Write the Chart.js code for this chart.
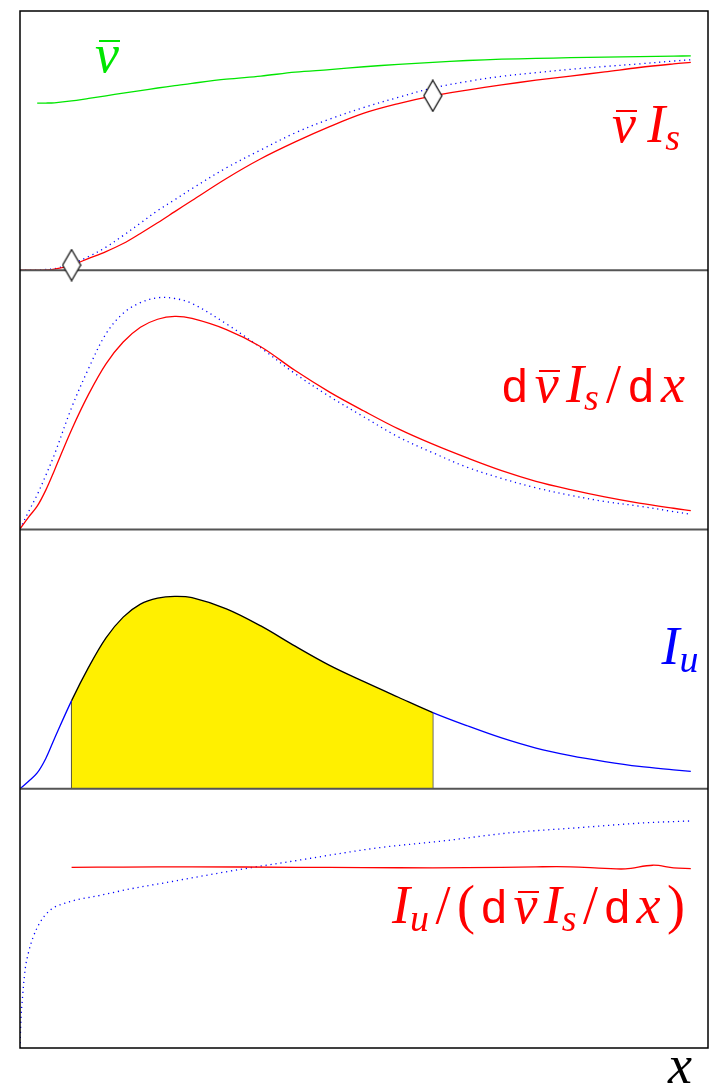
<!DOCTYPE html>
<html>
<head>
<meta charset="utf-8">
<script src="https://cdn.jsdelivr.net/npm/chart.js@4"></script>
<style>
  html, body { margin: 0; padding: 0; background: #fff; }
  #wrap { width: 719px; height: 1087px; position: relative; }
  .lbl { position: absolute; white-space: nowrap; font-family: "Liberation Serif", "DejaVu Serif", serif; font-size: 54px; line-height: 1; }
  .lbl span { display: inline-block; position: relative; }
  .lbl .probe { display: inline-block; width: 0; height: 0; }
  .lbl .it { font-style: italic; }
  .lbl .sf { font-family: "Liberation Sans", "DejaVu Sans", sans-serif; font-size: 46px; }
  .lbl .sub { font-size: 38px; top: 8px; }
  .lbl .bar::before { content: ''; position: absolute; left: 18%; right: -5%; top: 0.24em; border-top: 2.2px solid currentColor; }
</style>
</head>
<body>
<div id="wrap"><canvas id="chart"></canvas></div>
<script>
// common abscissa for the first three panels
const xGrid = [0, 0.125, 0.25, 0.375, 0.5, 0.75, 1, 1.25, 1.5, 1.75, 2, 2.25, 2.5, 3, 3.5, 4, 4.5, 5, 5.5, 6, 6.5, 7, 7.5, 8, 8.5, 9, 9.5, 9.75];

// panel 1: mean velocity and flux
const vbar     = [null, null, 0.645, 0.645, 0.646, 0.653, 0.663, 0.673, 0.683, 0.693, 0.703, 0.712, 0.721, 0.737, 0.749, 0.764, 0.774, 0.785, 0.794, 0.802, 0.809, 0.814, 0.817, 0.820, 0.822, 0.824, 0.826, 0.827];
const vIs      = [0, 0, 0, 0.001, 0.004, 0.020, 0.046, 0.072, 0.103, 0.142, 0.183, 0.226, 0.269, 0.354, 0.430, 0.495, 0.554, 0.606, 0.643, 0.673, 0.695, 0.715, 0.733, 0.749, 0.765, 0.782, 0.796, 0.802];
const vIsRef   = [0, 0, 0.001, 0.003, 0.006, 0.024, 0.053, 0.089, 0.134, 0.182, 0.230, 0.272, 0.315, 0.395, 0.464, 0.530, 0.583, 0.628, 0.667, 0.703, 0.728, 0.748, 0.762, 0.775, 0.786, 0.796, 0.807, 0.812];
const markerX  = [0.75, 6];

// panel 2: derivative of the flux
const dvIs     = [0.002, 0.048, 0.090, 0.152, 0.228, 0.385, 0.523, 0.639, 0.723, 0.780, 0.811, 0.822, 0.814, 0.771, 0.705, 0.613, 0.530, 0.457, 0.388, 0.329, 0.276, 0.227, 0.186, 0.154, 0.126, 0.102, 0.082, 0.073];
const dvIsRef  = [0.002, 0.069, 0.134, 0.209, 0.289, 0.470, 0.623, 0.755, 0.834, 0.875, 0.894, 0.891, 0.872, 0.793, 0.701, 0.601, 0.513, 0.434, 0.357, 0.296, 0.240, 0.197, 0.161, 0.132, 0.108, 0.090, 0.069, 0.059];

// panel 3: I_u, shaded between the two markers
const Iu       = [0, 0.029, 0.061, 0.117, 0.193, 0.340, 0.470, 0.582, 0.662, 0.712, 0.735, 0.742, 0.737, 0.694, 0.628, 0.550, 0.476, 0.413, 0.353, 0.294, 0.243, 0.196, 0.157, 0.128, 0.105, 0.086, 0.073, 0.067];

// panel 4: ratio
const ratioX   = [0.75, 1.5, 2.5, 4, 5, 6, 7, 7.5, 8, 8.5, 8.8, 9.2, 9.5, 9.75];
const ratio    = [0.697, 0.698, 0.699, 0.697, 0.696, 0.695, 0.697, 0.699, 0.699, 0.693, 0.691, 0.705, 0.695, 0.692];
const ratioRefX = [0, 0.015, 0.03, 0.05, 0.075, 0.12, 0.19, 0.29, 0.43, 0.68, 1.15, 1.63, 2.12, 2.6, 3.18, 4.04, 5.2, 6.16, 7.12, 8.08, 9.05, 9.77];
const ratioRef  = [0, 0.119, 0.173, 0.238, 0.304, 0.365, 0.427, 0.484, 0.530, 0.561, 0.588, 0.615, 0.638, 0.661, 0.688, 0.724, 0.772, 0.799, 0.830, 0.849, 0.868, 0.876];

const RED = '#ff0000', BLUE = '#0000ff', GREEN = '#00e600';

function pts(xs, ys) {
  return xs.map((x, i) => ({ x: x, y: ys[i] }));
}

const x0 = markerX[0], x1 = markerX[1];
const i0 = xGrid.indexOf(x0), i1 = xGrid.indexOf(x1);

// tall open diamond used as marker
const diamond = document.createElement('canvas');
diamond.width = 20; diamond.height = 33;
let dc = diamond.getContext('2d');
dc.beginPath();
dc.moveTo(10, 1); dc.lineTo(19, 16.5); dc.lineTo(10, 32); dc.lineTo(1, 16.5);
dc.closePath();
dc.fillStyle = '#fff'; dc.fill();
dc.lineWidth = 1.3; dc.strokeStyle = '#111'; dc.stroke();

function curve(data, yAxisID, color, dotted, steep) {
  return {
    data: data,
    yAxisID: yAxisID,
    showLine: true,
    pointRadius: 0,
    borderWidth: 1.3,
    borderColor: color,
    borderDash: dotted ? [1.2, 3.8] : [],
    fill: false,
    spanGaps: false,
    tension: 0.35,
    cubicInterpolationMode: steep ? 'monotone' : 'default'
  };
}

const inShade = c => c.p0.parsed.x >= x0 && c.p1.parsed.x <= x1;

let datasets = [
  {
    data: markerX.map(x => ({ x: x, y: vIs[xGrid.indexOf(x)] })),
    yAxisID: 'y1',
    showLine: false,
    pointStyle: diamond,
    pointRadius: 10,
    clip: false
  },
  curve(pts(xGrid, vIs), 'y1', RED),
  curve(pts(xGrid, vbar), 'y1', GREEN),
  curve(pts(xGrid, vIsRef), 'y1', BLUE, true),
  curve(pts(xGrid, dvIs), 'y2', RED),
  curve(pts(xGrid, dvIsRef), 'y2', BLUE, true),
  Object.assign(curve(pts(xGrid, Iu), 'y3', BLUE), {
    fill: 'origin',
    backgroundColor: 'transparent',
    segment: {
      borderColor: c => inShade(c) ? '#000' : BLUE,
      backgroundColor: c => inShade(c) ? '#fff000' : 'transparent'
    }
  }),
  curve([{ x: x0, y: 0 }, { x: x0, y: Iu[i0] }], 'y3', '#444'),
  curve([{ x: x1, y: 0 }, { x: x1, y: Iu[i1] }], 'y3', '#444'),
  curve(pts(ratioX, ratio), 'y4', RED),
  curve(pts(ratioRefX, ratioRef), 'y4', BLUE, true, true)
];

const panelAxis = {
  type: 'linear', min: 0, max: 1,
  stack: 'panels', stackWeight: 1, position: 'right',
  grid: { display: false, drawTicks: false },
  ticks: { display: false },
  border: { display: false }
};

// math labels: italic serif letters, sans "d", optional bar and subscript
const it = t => ({ t: t, f: 'it' });
const bar = t => ({ t: t, f: 'it', bar: true });
const sub = t => ({ t: t, f: 'it', sub: true });
const sf = t => ({ t: t, f: 'sf' });
const rm = t => ({ t: t, f: 'rm' });

const labels = [
  { parts: [bar('v')], left: 95, right: 119, base: 72, color: GREEN },
  { parts: [bar('v'), it('I'), sub('s')], left: 612, right: 680, base: 142, color: RED },
  { parts: [sf('d'), bar('v'), it('I'), sub('s'), rm('/'), sf('d'), it('x')], left: 502, right: 685, base: 402, color: RED },
  { parts: [it('I'), sub('u')], left: 658, right: 702, base: 664, color: BLUE },
  { parts: [it('I'), sub('u'), rm('/'), rm('('), sf('d'), bar('v'), it('I'), sub('s'), rm('/'), sf('d'), it('x'), rm(')')], left: 392, right: 685, base: 923, color: RED },
  { parts: [it('x')], left: 666, right: 694, base: 1083, color: '#000' }
];

const wrap = document.getElementById('wrap');

function placeFormula(lab) {
  const box = document.createElement('div');
  box.className = 'lbl';
  box.style.color = lab.color;
  const probe = document.createElement('i');
  probe.className = 'probe';
  box.appendChild(probe);
  const spans = lab.parts.map(p => {
    const s = document.createElement('span');
    s.textContent = p.t;
    s.className = p.f + (p.sub ? ' it sub' : '') + (p.bar ? ' bar' : '');
    box.appendChild(s);
    return s;
  });
  wrap.appendChild(box);
  const natural = spans.reduce((s, e) => s + e.getBoundingClientRect().width, 0);
  const gaps = lab.parts.filter((p, i) => i > 0 && !p.sub).length;
  const gap = gaps ? (lab.right - lab.left - natural) / gaps : 0;
  spans.forEach((s, i) => {
    if (i > 0 && !lab.parts[i].sub) s.style.marginLeft = gap + 'px';
  });
  box.style.left = (gaps ? lab.left : (lab.left + lab.right - natural) / 2) + 'px';
  box.style.top = '0px';
  const baseOff = probe.getBoundingClientRect().top - box.getBoundingClientRect().top;
  box.style.top = (lab.base - baseOff) + 'px';
}

const panelFrame = {
  id: 'panelFrame',
  beforeDatasetDraw(chart, args) {
    if (args.index !== 0) return;
    const ctx = chart.ctx, a = chart.chartArea;
    ctx.save();
    ctx.strokeStyle = '#555';
    ctx.lineWidth = 2;
    ['y1', 'y2', 'y3', 'y4'].forEach(id => {
      const b = chart.scales[id].bottom;
      if (b < a.bottom - 1) {
        ctx.beginPath();
        ctx.moveTo(a.left, b);
        ctx.lineTo(a.right, b);
        ctx.stroke();
      }
    });
    ctx.strokeStyle = '#000';
    ctx.lineWidth = 1.5;
    ctx.strokeRect(a.left, a.top, a.right - a.left, a.bottom - a.top);
    ctx.restore();
  }
};

new Chart(document.getElementById('chart').getContext('2d'), {
  type: 'scatter',
  data: { datasets: datasets },
  options: {
    responsive: true,
    maintainAspectRatio: false,
    animation: false,
    events: [],
    layout: { padding: { left: 20, right: 6, top: 7, bottom: 39 } },
    scales: {
      x: { type: 'linear', min: 0, max: 10, display: false },
      y1: Object.assign({}, panelAxis),
      y2: Object.assign({}, panelAxis),
      y3: Object.assign({}, panelAxis),
      y4: Object.assign({}, panelAxis)
    },
    plugins: {
      legend: { display: false },
      tooltip: { enabled: false }
    }
  },
  plugins: [panelFrame]
});

labels.forEach(placeFormula);
</script>
</body>
</html>
